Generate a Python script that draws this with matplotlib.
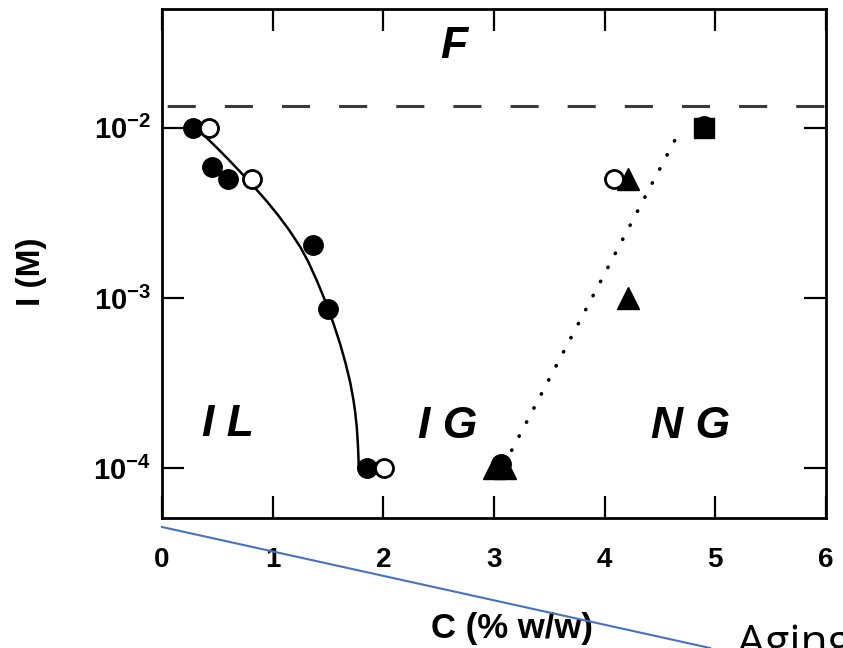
import matplotlib
matplotlib.use('Agg')
import matplotlib.pyplot as plt
from matplotlib.lines import Line2D
from matplotlib.ticker import NullLocator

plt.rcParams['font.family'] = ['Liberation Sans', 'DejaVu Sans']
plt.rcParams['mathtext.default'] = 'regular'

# filled circles
fc_x = [0.28, 0.45, 0.60, 1.36, 1.50, 1.85, 3.06, 4.90]
fc_y = [1e-2, 5.9e-3, 5.0e-3, 2.05e-3, 8.6e-4, 1e-4, 1.05e-4, 1.02e-2]

# open circles
oc_x = [0.42, 0.81, 2.01, 4.08]
oc_y = [1e-2, 5e-3, 1e-4, 5e-3]

# filled triangles
tr_x = [3.00, 3.10, 4.21, 4.21]
tr_y = [1e-4, 1e-4, 5e-3, 1e-3]

# filled square
sq_x = [4.90]
sq_y = [1e-2]

# solid boundary curve IL / IG
curve_x = [0.39, 0.50, 0.60, 0.70, 0.82, 0.95, 1.05, 1.15, 1.25, 1.32, 1.40,
           1.48, 1.55, 1.61, 1.66, 1.70, 1.73, 1.745, 1.76, 1.77, 1.775, 1.778]
curve_y = [8.91e-3, 7.59e-3, 6.52e-3, 5.57e-3, 4.59e-3, 3.68e-3, 3.06e-3,
           2.50e-3, 1.99e-3, 1.64e-3, 1.26e-3, 9.42e-4, 7.05e-4, 5.35e-4,
           4.10e-4, 3.20e-4, 2.51e-4, 2.14e-4, 1.74e-4, 1.38e-4, 1.15e-4, 1.0e-4]

# dotted boundary IG / NG
dot_x = [3.16, 4.66]
dot_y = [1.27e-4, 9.1e-3]

# dashed limit
flocc_y = 1.35e-2

regions = [('F', 2.64, 3.0e-2), ('I L', 0.60, 1.8e-4),
           ('I G', 2.58, 1.75e-4), ('N G', 4.78, 1.75e-4)]

fig = plt.figure(figsize=(8.43, 6.48), dpi=100)
ax = fig.add_axes([0.1922, 0.2006, 0.7876, 0.7855])

ax.plot(curve_x, curve_y, color='black', lw=1.8, zorder=2)
ax.plot(dot_x, dot_y, color='black', lw=2.6, ls=(0, (0.1, 4.3)),
        dash_capstyle='round', zorder=2)
ax.axhline(flocc_y, color='#3a3a3a', lw=2.2, ls=(17.0, (9.2, 9.5)), zorder=1)

ax.plot(tr_x, tr_y, '^', ms=16, color='black', zorder=3)
ax.plot(sq_x, sq_y, 's', ms=14, color='black', zorder=3)
ax.plot(fc_x, fc_y, 'o', ms=14, color='black', zorder=4)
ax.plot(oc_x, oc_y, 'o', ms=13, mfc='white', mec='black', mew=2, zorder=5)

for txt, x, y in regions:
    ax.text(x, y, txt, fontsize=32, fontweight='bold', style='italic',
            ha='center', va='center')

ax.set_yscale('log')
ax.set_xlim(0, 6)
ax.set_ylim(5.08e-5, 5.0e-2)
ax.set_yticks([1e-4, 1e-3, 1e-2])
ax.yaxis.set_minor_locator(NullLocator())
ax.set_xticks(range(7))

ax.tick_params(direction='in', length=16, width=1.6,
               top=True, right=True)
ax.tick_params(axis='x', pad=21, labelsize=20)
ax.tick_params(axis='y', pad=8, labelsize=21)
for lab in ax.get_xticklabels() + ax.get_yticklabels():
    lab.set_fontweight('bold')
for s in ax.spines.values():
    s.set_linewidth(2)

ax.set_xlabel('C (% w/w)', fontsize=25, fontweight='bold')
ax.xaxis.set_label_coords(0.527, -0.185)
ax.set_ylabel('I (M)', fontsize=24, fontweight='bold')
ax.yaxis.set_label_coords(-0.173, 0.483)

# overlaid blue line and label
fig.add_artist(Line2D([162 / 843, 710 / 843], [1 - 527 / 648, 0.0],
                      transform=fig.transFigure, color='#4472C4', lw=1.5))
fig.text(737 / 843, -0.012, 'Aging', fontsize=32, family='Open Sans',
         ha='left', va='baseline')

fig.savefig('out.png', dpi=100)
